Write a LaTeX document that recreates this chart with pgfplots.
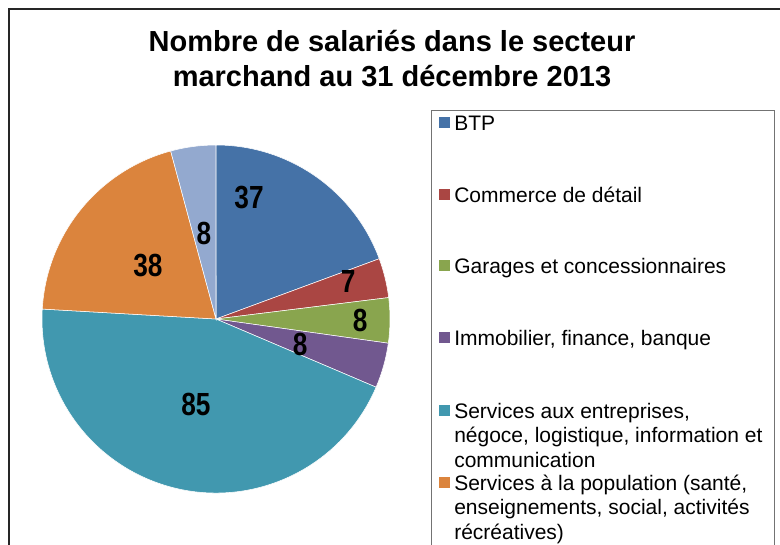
\documentclass[border=0pt]{standalone}
\usepackage{fontspec}
\setmainfont{Liberation Sans}
\newfontfamily\lblfont[FakeStretch=0.82]{Liberation Sans}
\usepackage{pgfplots}
\usepackage{pgfplotstable}
\pgfplotsset{compat=1.18}

\definecolor{pc0}{HTML}{4572A7}
\definecolor{pc1}{HTML}{AA4643}
\definecolor{pc2}{HTML}{89A54E}
\definecolor{pc3}{HTML}{71588F}
\definecolor{pc4}{HTML}{4198AF}
\definecolor{pc5}{HTML}{DB843D}
\definecolor{pc6}{HTML}{93A9CF}

% value, label position (in pie radii)
\pgfplotstableread{
value lx ly
37 0.190 0.701
7 0.759 0.218
8 0.828 -0.011
8 0.483 -0.144
85 -0.115 -0.494
38 -0.391 0.305
8 -0.069 0.489
}\piedata

% slice angles, clockwise from 12 o'clock
\pgfplotstablegetrowsof{\piedata}
\pgfmathtruncatemacro\nlast{\pgfplotsretval-1}
\xdef\total{0}
\foreach \i in {0,...,\nlast}{%
  \pgfplotstablegetelem{\i}{value}\of\piedata
  \pgfmathsetmacro\tmpsum{\total+\pgfplotsretval}%
  \xdef\total{\tmpsum}}
\xdef\cum{90}
\foreach \i in {0,...,\nlast}{%
  \pgfplotstablegetelem{\i}{value}\of\piedata
  \expandafter\xdef\csname pv\i\endcsname{\pgfplotsretval}%
  \pgfmathsetmacro\tmpend{\cum-\pgfplotsretval/\total*360}%
  \expandafter\xdef\csname ps\i\endcsname{\cum}%
  \expandafter\xdef\csname pe\i\endcsname{\tmpend}%
  \xdef\cum{\tmpend}%
  \pgfplotstablegetelem{\i}{lx}\of\piedata
  \expandafter\xdef\csname px\i\endcsname{\pgfplotsretval}%
  \pgfplotstablegetelem{\i}{ly}\of\piedata
  \expandafter\xdef\csname py\i\endcsname{\pgfplotsretval}%
}

\begin{document}
\begin{tikzpicture}[x=0.75pt,y=0.75pt]
\clip (0,0) rectangle (780,544);
\fill[white] (0,0) rectangle (780,544);
\draw[line width=1.1pt, black!85] (9,-10) -- (9,535) -- (790,535);
\node[anchor=base, inner sep=0, font=\bfseries\fontsize{21.75}{26}\selectfont] at (392,492) {Nombre de salariés dans le secteur};
\node[anchor=base, inner sep=0, font=\bfseries\fontsize{21.75}{26}\selectfont] at (392,458) {marchand au 31 décembre 2013};

\coordinate (pcen) at (216,225);
\begin{axis}[at={(pcen)}, anchor=center, width=261pt, height=261pt, scale only axis,
  xmin=-1, xmax=1, ymin=-1, ymax=1, hide axis, clip=false]
\pgfplotsinvokeforeach{0,...,6}{
  \fill[pc#1, draw=white, line width=0.4pt] (axis cs:0,0) -- ++(\csname ps#1\endcsname:130.5pt)
    arc[start angle=\csname ps#1\endcsname, end angle=\csname pe#1\endcsname, radius=130.5pt] -- cycle;
}
\pgfplotsinvokeforeach{0,...,6}{
  \node[inner sep=0, font=\lblfont\bfseries\fontsize{24}{28}\selectfont]
    at (axis cs:\csname px#1\endcsname,\csname py#1\endcsname) {\csname pv#1\endcsname};
}
\end{axis}

% legend
\draw[black!55, line width=0.75pt] (431,-10) rectangle (774,434);
\foreach \b/\c/\txt in {414/pc0/{BTP}, 342/pc1/{Commerce de détail},
    271/pc2/{Garages et concessionnaires}, 199/pc3/{Immobilier, finance, banque},
    126/pc4/{Services aux entreprises,}, 54/pc5/{Services à la population (santé,}}{
  \fill[\c] (439,\b+2) rectangle (450,\b+13);
  \node[anchor=base west, inner sep=0, font=\fontsize{15.75}{18.4}\selectfont] at (454,\b) {\txt};
}
\foreach \b/\txt in {101.5/{négoce, logistique, information et}, 77/{communication},
    29.5/{enseignements, social, activités}, 5/{récréatives)}}{
  \node[anchor=base west, inner sep=0, font=\fontsize{15.75}{18.4}\selectfont] at (454,\b) {\txt};
}
\end{tikzpicture}
\end{document}
